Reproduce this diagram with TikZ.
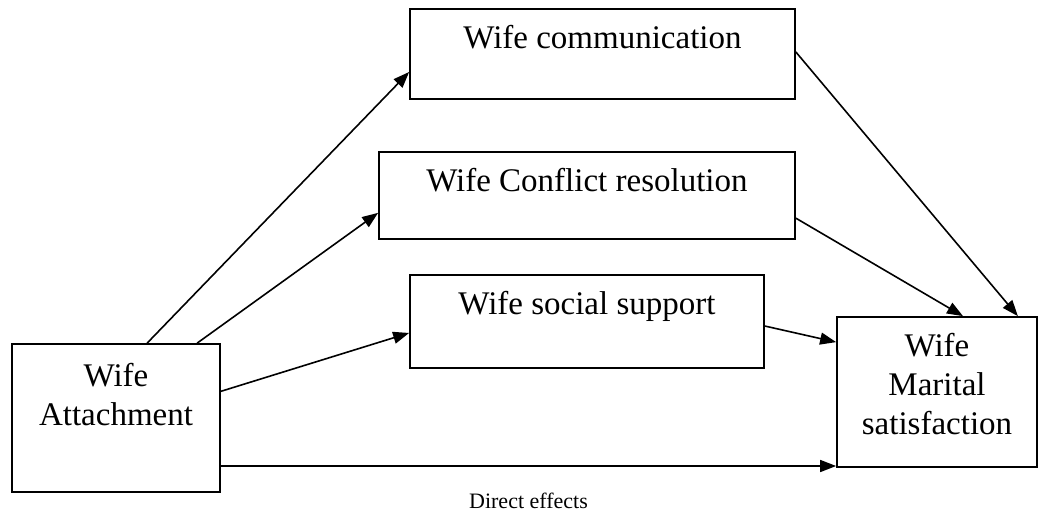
\documentclass[tikz,border=0pt]{standalone}
\usepackage{fontspec}
\setmainfont{Liberation Serif}
\usetikzlibrary{arrows.meta,positioning}

\begin{document}
\begin{tikzpicture}[x=0.75pt, y=-0.75pt,
    box/.style={draw, line width=1.3pt, inner sep=0pt},
    boxtext/.style={font=\fontsize{24.75pt}{29pt}\selectfont, align=center, anchor=north, inner sep=0pt, yshift=-13pt},
    link/.style={-{Triangle[length=12pt, width=9pt]}, line width=1.2pt}]
  \useasboundingbox (0,0) rectangle (1038,514);
  % Boxes
  \node[box, minimum width=288.75pt, minimum height=67.5pt] (comm) at (602.5,54) {};
  \node[box, minimum width=312pt, minimum height=65.25pt] (conf) at (587,195.5) {};
  \node[box, minimum width=265.5pt, minimum height=69.75pt] (soc) at (587,321.5) {};
  \node[box, minimum width=156pt, minimum height=111pt] (att) at (116,418) {};
  \node[box, minimum width=150pt, minimum height=112.5pt] (mar) at (937,392) {};
  % Box texts
  \node[boxtext] (commtext) at (comm.north) {Wife communication};
  \node[boxtext] (conftext) at (conf.north) {Wife Conflict resolution};
  \node[boxtext] (soctext) at (soc.north) {Wife social support};
  \node[boxtext, yshift=-2pt] (atttext) at (att.north) {Wife\\Attachment};
  \node[boxtext] (martext) at (mar.north) {Wife\\Marital\\satisfaction};
  % Paths from attachment
  \draw[link] ([xshift=102pt]att.north west) -- ([yshift=-13.5pt]comm.west);
  \draw[link] ([xshift=139.5pt]att.north west) -- ([yshift=-13pt]conf.west);
  \draw[link] ([yshift=20pt]att.east) -- ([yshift=-8.6pt]soc.west);
  % Paths to marital satisfaction
  \draw[link] ([yshift=1.5pt]comm.east) -- ([xshift=-15pt]mar.north east);
  \draw[link] ([yshift=-17pt]conf.east) -- ([xshift=19.5pt]mar.north);
  \draw[link] ([yshift=-3.4pt]soc.east) -- ([yshift=-19.5pt]mar.north west);
  % Direct effect
  \draw[link] ([yshift=-36pt]att.east) -- ([yshift=-36pt]att.east -| mar.west)
    node[midway, anchor=base, yshift=-31.5pt, font=\fontsize{16.5pt}{19pt}\selectfont] (direct) {Direct effects};
\end{tikzpicture}
\end{document}
